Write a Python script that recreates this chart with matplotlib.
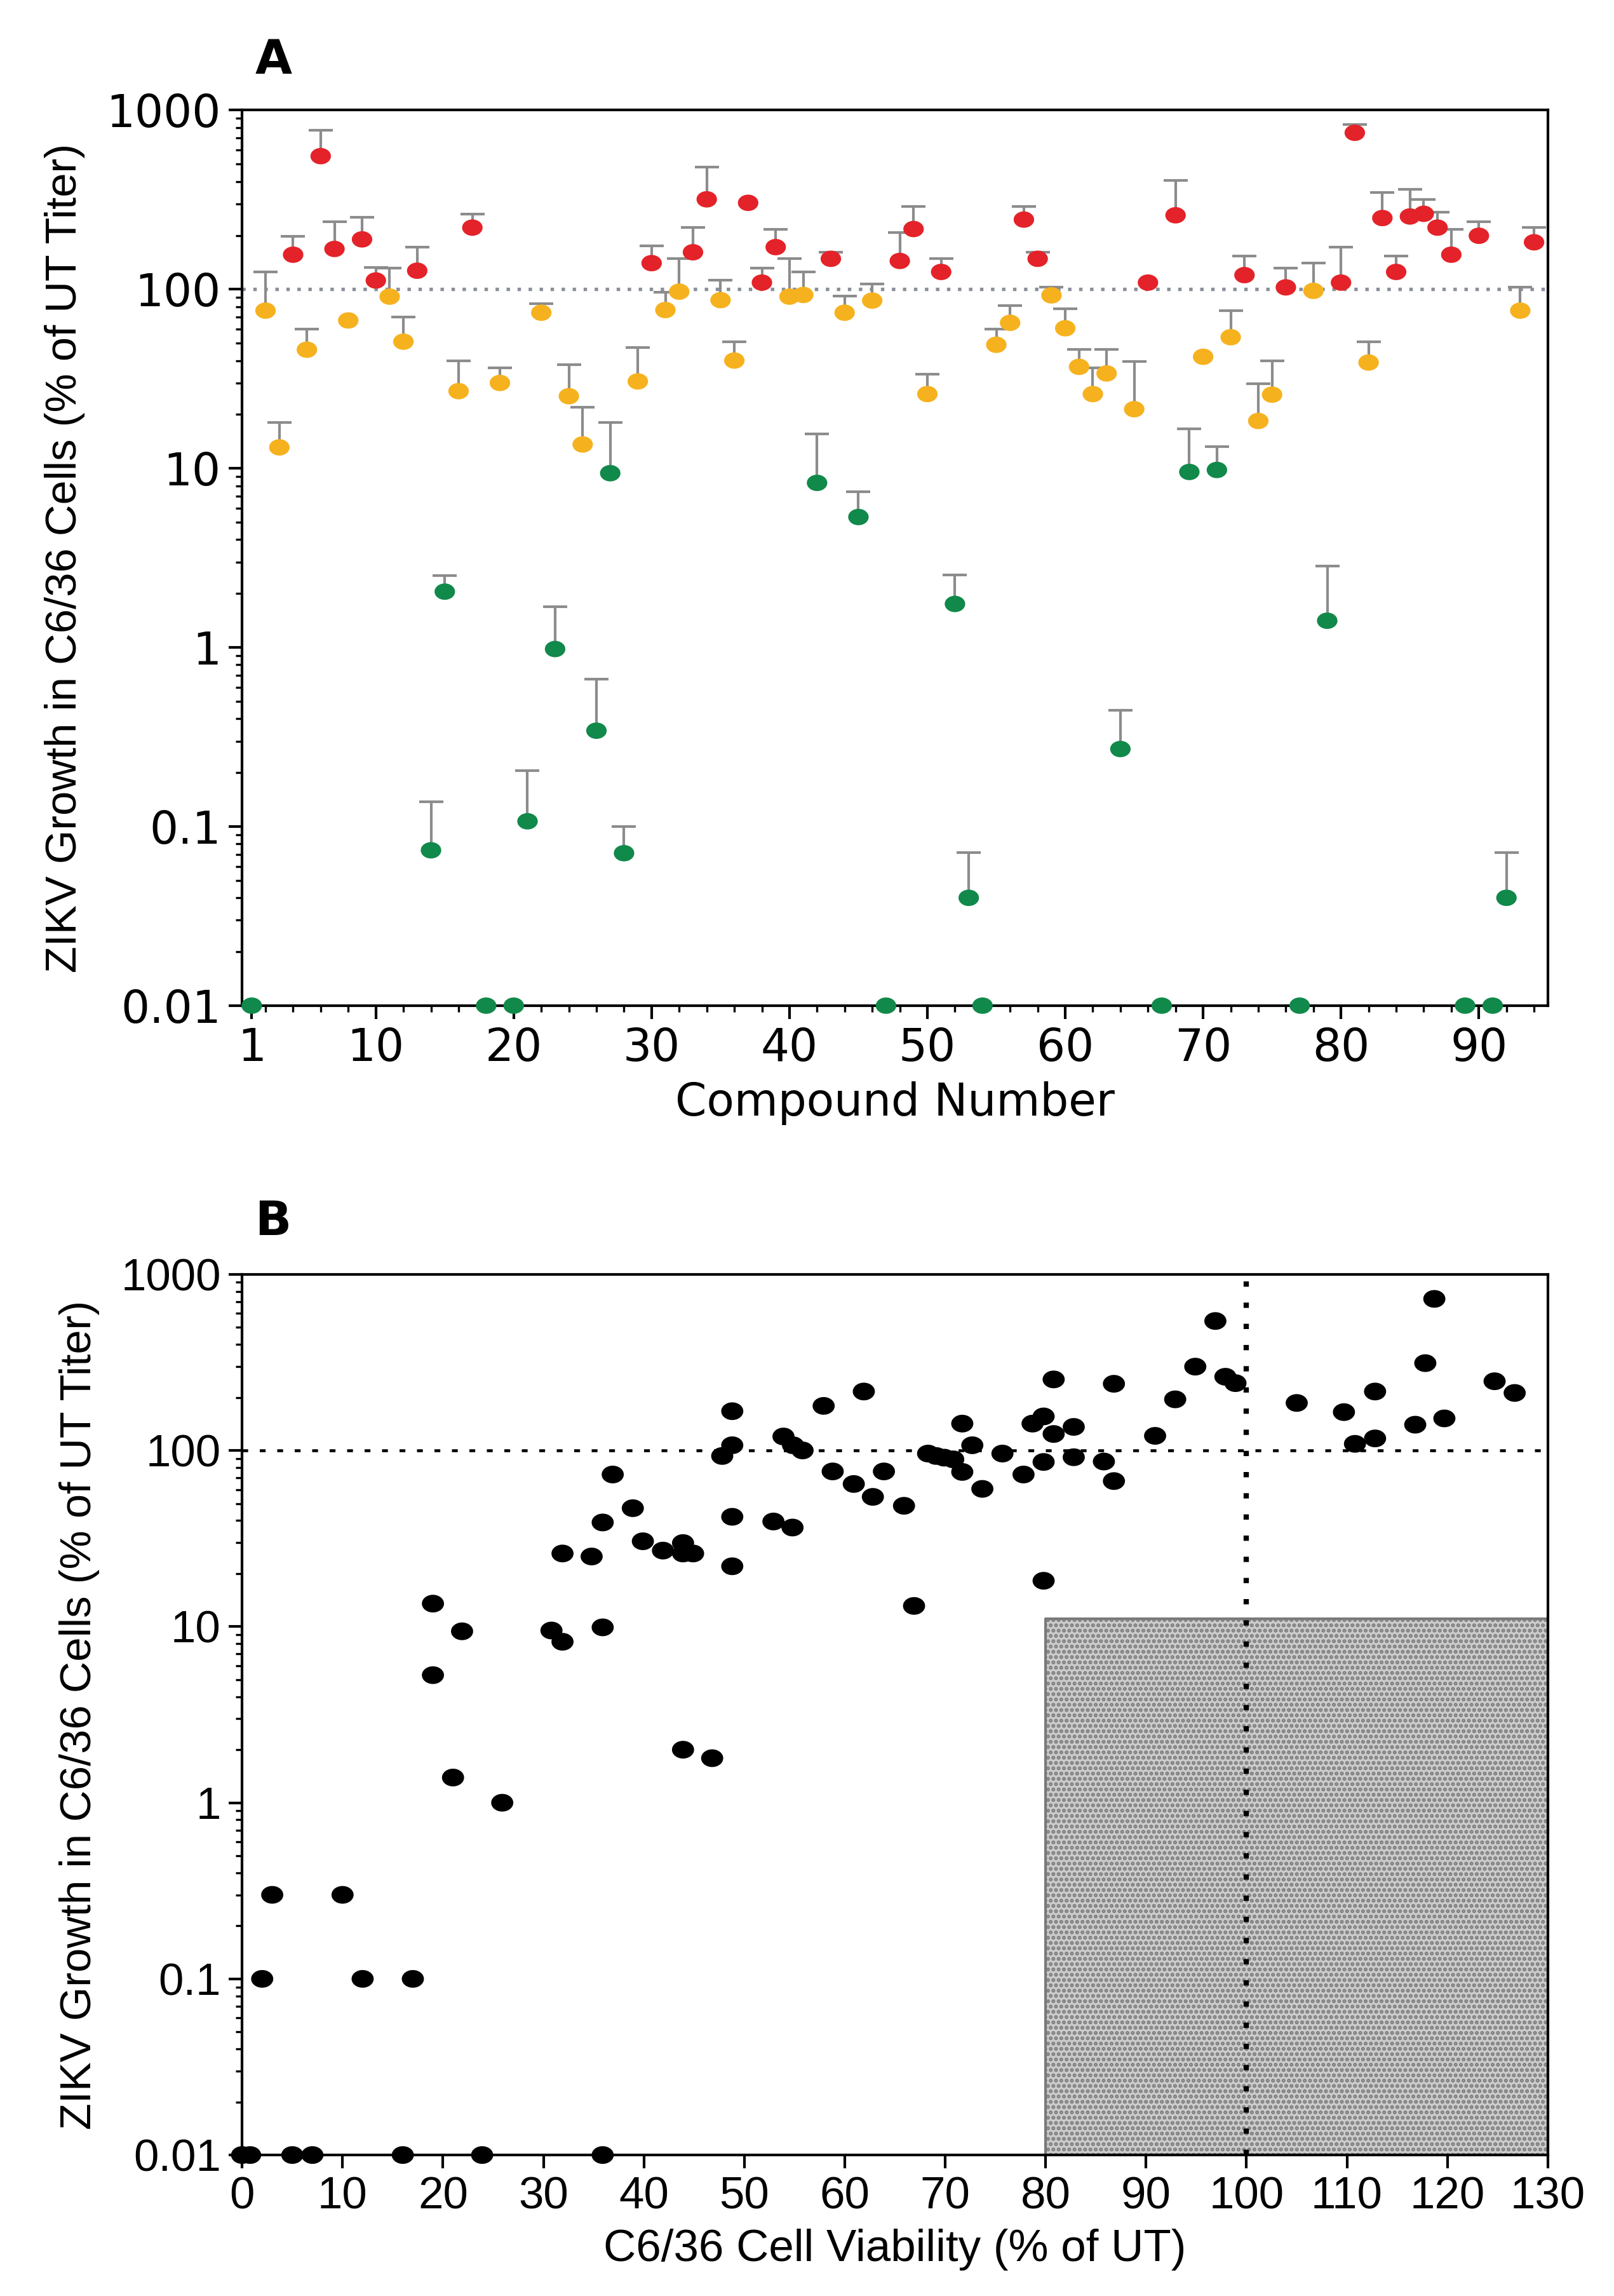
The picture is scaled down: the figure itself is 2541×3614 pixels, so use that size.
import numpy as np
import matplotlib
matplotlib.use('Agg')
import matplotlib.pyplot as plt
from matplotlib.path import Path
from matplotlib.ticker import FixedLocator, FixedFormatter, LogLocator, NullFormatter, MultipleLocator

plt.rcParams['font.family'] = ['Liberation Sans', 'DejaVu Sans']

# ---- Panel A: ZIKV growth per compound (mean and upper error top) ----
compound = list(range(1, 95))
growth = [0.01, 76, 13.1, 156, 46, 554, 168, 67, 190, 112,
          91, 51, 127, 0.0737, 2.05, 27, 221, 0.01, 30, 0.01,
          0.107, 74, 0.98, 25.3, 13.6, 0.343, 9.4, 0.071, 30.6, 140,
          76.6, 97, 161, 318, 87, 40, 304, 109, 172, 91,
          93, 8.3, 148, 74, 5.35, 86.5, 0.01, 144, 217, 26,
          125, 1.75, 0.04, 0.01, 49, 65, 245, 148, 92.5, 60.6,
          36.9, 26, 33.9, 0.271, 21.4, 109, 0.01, 259, 9.55, 42,
          9.8, 54, 120, 18.4, 25.8, 102.5, 0.01, 98, 1.41, 109,
          748, 39, 250, 125, 255, 264, 221, 156, 0.01, 199,
          0.01, 0.04, 76, 183]
# top of the upper error bar (None = no bar drawn)
err_top = [None, 125, 18, 198, 60, 776, 238, None, 252, 132,
           131, 70, 172, 0.138, 2.52, 40, 264, None, 36.5, None,
           0.205, 83, 1.69, 38, 22, 0.667, 18, 0.1, 47.5, 175,
           96, 149, 221, 481, 112, 51, None, 131, 217, 149,
           125, 15.6, 161, 92, 7.4, 107, None, 207, 290, 33.6,
           149, 2.55, 0.0716, None, 60, 81, 290, 161, 103, 78,
           46, 36.5, 46, 0.446, 39.4, None, None, 406, 16.6, None,
           13.2, 76, 153, 29.7, 40, 131, None, 140, 2.85, 172,
           830, 51, 347, 153, 363, 318, 269, 217, None, 238,
           None, 0.0716, 103, 221]

# ---- Panel B: growth vs cell viability ----
viability = [0, 0.8, 5.0, 7.0, 16.0, 23.9, 35.9,
             2.0, 3.0, 10.0, 12.0, 17.0,
             19.0, 19.0, 21.9, 21.0, 25.9,
             30.8, 31.9, 31.9, 34.8, 35.9, 35.9, 36.9, 38.9, 39.9, 41.9,
             43.9, 43.9, 44.9, 43.9, 46.8,
             47.8, 48.8, 48.8, 48.8, 48.8, 52.9, 53.9, 54.85, 55.8, 54.8,
             57.9, 58.8, 60.9, 61.9, 62.8, 63.9,
             65.9, 66.9, 68.3, 69.1, 69.9, 70.8, 71.7, 71.7, 72.7, 73.7,
             75.7, 77.8, 78.7, 79.8, 79.8, 79.8, 80.8, 80.8, 82.8, 82.8,
             85.8, 86.8, 86.8, 90.9, 92.9, 94.9, 96.9, 97.9, 98.9,
             105.0, 109.7, 110.8, 112.8, 112.8, 116.8, 117.8, 118.7, 119.7,
             124.7, 126.7]
growth_b = [0.01, 0.01, 0.01, 0.01, 0.01, 0.01, 0.01,
            0.1, 0.3, 0.3, 0.1, 0.1,
            13.5, 5.3, 9.4, 1.39, 1.0,
            9.5, 8.2, 26, 25, 9.9, 39, 73, 47, 30.5, 27,
            29.8, 26, 26, 2.0, 1.79,
            93, 167, 107, 42, 22, 39.5, 120, 107, 100, 36.5,
            179, 76, 64.5, 216, 54.5, 76,
            48.5, 13.1, 96, 93, 91, 89, 142, 75.5, 107, 60.5,
            96, 73, 142, 156, 86, 18.2, 253, 124, 136, 91.5,
            86.5, 239, 67, 121, 195, 299, 543, 262, 241,
            186, 165, 109, 216, 117, 140, 313, 725, 152,
            247, 212]

# hit region: viability >= 80 %, growth <= ~11 %
hit_x = [80, 130]
hit_top = 11.1

red, yellow, green = '#e42229', '#f6b21e', '#10894a'
ylabel = 'ZIKV Growth in C6/36 Cells (% of UT Titer)'
yticks = [0.01, 0.1, 1, 10, 100, 1000]
ytick_labels = ['0.01', '0.1', '1', '10', '100', '1000']

# slightly flattened dot, like the original figure
t = np.linspace(0, 2 * np.pi, 40)
dot = Path(np.column_stack([1.15 * np.cos(t), 0.92 * np.sin(t)]), closed=True)

fig = plt.figure(figsize=(2541 / 300, 3614 / 300), dpi=300)
axA = fig.add_axes([0.150, 0.562, 0.809, 0.390])
axB = fig.add_axes([0.150, 0.0614, 0.809, 0.3836])


def style_log_y(ax, font):
    ax.set_yscale('log')
    ax.set_ylim(0.01, 1000)
    ax.yaxis.set_major_locator(FixedLocator(yticks))
    ax.yaxis.set_major_formatter(FixedFormatter(ytick_labels))
    ax.yaxis.set_minor_locator(LogLocator(base=10, subs=np.arange(2, 10)))
    ax.yaxis.set_minor_formatter(NullFormatter())
    ax.tick_params(axis='both', which='major', direction='out', length=5, width=1.0,
                   labelsize=17, pad=3)
    ax.tick_params(axis='both', which='minor', direction='out', length=2.5, width=0.8)
    for lab in ax.get_yticklabels() + ax.get_xticklabels():
        lab.set_family(font)
    for s in ax.spines.values():
        s.set_linewidth(1.0)
    ax.set_ylabel(ylabel, fontsize=16.5, labelpad=8)


# ---- Panel A ----
cols = [red if v > 100 else (yellow if v >= 10 else green) for v in growth]
axA.axhline(100, color='#8a8f99', lw=1.3, ls=(0, (1, 2.2)), zorder=1)

for x, v, top in zip(compound, growth, err_top):
    if top is None:
        continue
    eb = axA.errorbar(x, v, yerr=[[0], [top - v]], fmt='none', ecolor='#8c8c8c',
                      elinewidth=1.0, capsize=4.5, capthick=1.0, zorder=2, clip_on=False)
    lower_cap, upper_cap = eb[1]
    lower_cap.set_visible(False)
    upper_cap.set_color('#222222')

axA.scatter(compound, growth, s=60, c=cols, marker=dot, edgecolors='none', zorder=3,
            clip_on=False)
axA.set_xlim(0.3, 95)
style_log_y(axA, 'DejaVu Sans')
axA.set_xticks([1, 10, 20, 30, 40, 50, 60, 70, 80, 90])
axA.xaxis.set_minor_locator(MultipleLocator(2))
for lab in axA.get_xticklabels():
    lab.set_family('DejaVu Sans')
axA.set_xlabel('Compound Number', fontsize=17, family='DejaVu Sans', labelpad=4)
fig.text(0.158, 0.968, 'A', fontsize=18, fontweight='bold', family='DejaVu Sans')

# ---- Panel B ----
axB.fill_between(hit_x, 0.01, hit_top, facecolor='#cbcbcb', edgecolor='#7a7a7a',
                 hatch='......', linewidth=1.0, zorder=1)
axB.axhline(100, color='black', lw=1.1, ls=(0, (2, 4)), zorder=2)
axB.axvline(100, color='black', lw=2.0, ls=(0, (1, 3)), zorder=2)
axB.scatter(viability, growth_b, s=70, c='black', marker=dot, edgecolors='none', zorder=3,
            clip_on=False)
axB.set_xlim(0, 130)
style_log_y(axB, 'Liberation Sans')
axB.set_xticks(np.arange(0, 131, 10))
for lab in axB.get_xticklabels():
    lab.set_family('Liberation Sans')
axB.set_xlabel('C6/36 Cell Viability (% of UT)', fontsize=17, labelpad=4)
fig.text(0.158, 0.462, 'B', fontsize=18, fontweight='bold', family='DejaVu Sans')

fig.savefig('out.png', dpi=300, facecolor='white')
